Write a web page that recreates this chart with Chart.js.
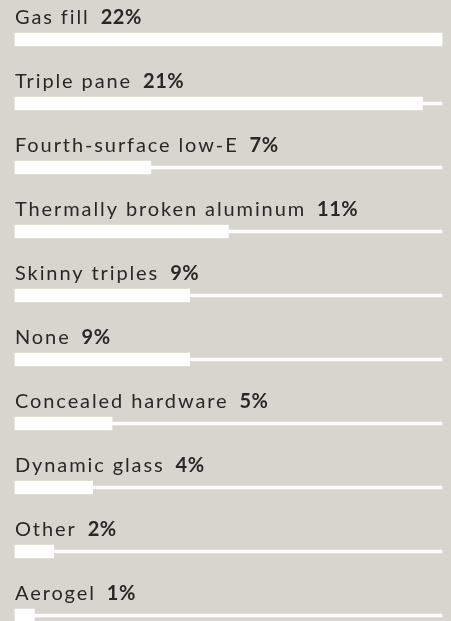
<!DOCTYPE html>
<html>
<head>
<meta charset="utf-8">
<script src="https://cdn.jsdelivr.net/npm/chart.js@4.4.1/dist/chart.umd.min.js"></script>
<style>
  html, body { margin: 0; padding: 0; background: #d6d5ce; }
  #wrap { width: 451px; height: 621px; position: relative; }
</style>
</head>
<body>
<div id="wrap"><canvas id="c"></canvas></div>
<script>
const categories = ["Gas fill", "Triple pane", "Fourth-surface low-E", "Thermally broken aluminum", "Skinny triples", "None", "Concealed hardware", "Dynamic glass", "Other", "Aerogel"];
const shares = [22, 21, 7, 11, 9, 9, 5, 4, 2, 1];
const scaleMax = Math.max(...shares);
const track = shares.map(() => scaleMax);

const FONT = "Lato, 'DejaVu Sans', sans-serif";
const labelPlugin = {
  id: 'rowLabels',
  afterDatasetsDraw(chart) {
    const ctx = chart.ctx;
    const y = chart.scales.y;
    const x0 = chart.chartArea.left;
    ctx.save();
    ctx.fillStyle = '#282828';
    ctx.textBaseline = 'alphabetic';
    ctx.textAlign = 'left';
    categories.forEach((cat, i) => {
      const cy = y.getPixelForValue(i) - 16;
      ctx.letterSpacing = '1.9px';
      ctx.font = "400 20px " + FONT;
      ctx.fillText(cat, x0, cy);
      const w = ctx.measureText(cat).width;
      ctx.letterSpacing = '0.5px';
      ctx.font = "700 20px " + FONT;
      ctx.fillText(shares[i] + '%', x0 + w + 11, cy);
    });
    ctx.restore();
  }
};

new Chart(document.getElementById('c'), {
  type: 'bar',
  data: {
    labels: categories,
    datasets: [
      { data: track, backgroundColor: '#ffffff', barThickness: 3, clip: false, order: 2 },
      { data: shares, backgroundColor: '#ffffff', barThickness: 13, clip: false, order: 1 }
    ]
  },
  options: {
    indexAxis: 'y',
    responsive: true,
    maintainAspectRatio: false,
    animation: false,
    events: [],
    grouped: false,
    layout: { padding: { left: 15, right: 9, top: 39.5, bottom: 5.5 } },
    plugins: { legend: { display: false }, tooltip: { enabled: false } },
    scales: {
      x: { display: false, min: 0, max: scaleMax },
      y: { display: false, offset: false }
    }
  },
  plugins: [labelPlugin]
});
</script>
</body>
</html>
